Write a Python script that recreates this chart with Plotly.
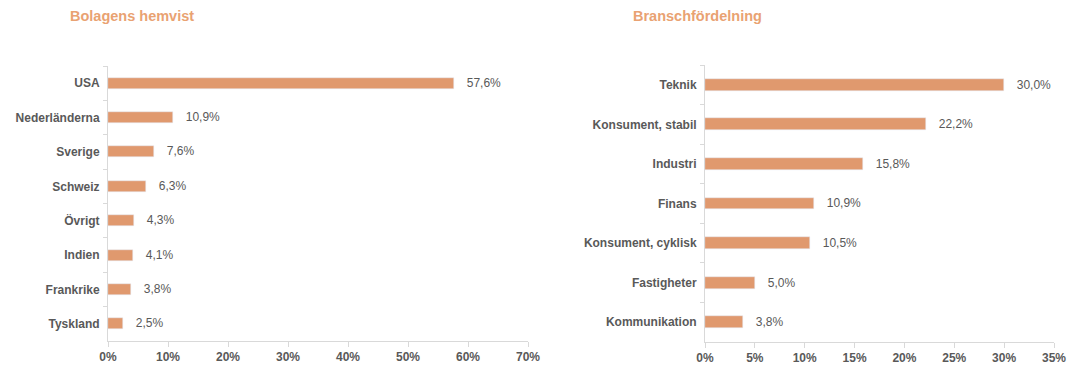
import plotly.graph_objects as go
from plotly.subplots import make_subplots

countries = ["USA", "Nederländerna", "Sverige", "Schweiz", "Övrigt", "Indien", "Frankrike", "Tyskland"]
country_vals = [57.6, 10.9, 7.6, 6.3, 4.3, 4.1, 3.8, 2.5]

sectors = ["Teknik", "Konsument, stabil", "Industri", "Finans", "Konsument, cyklisk", "Fastigheter", "Kommunikation"]
sector_vals = [30.0, 22.2, 15.8, 10.9, 10.5, 5.0, 3.8]

left_ticks = [0, 10, 20, 30, 40, 50, 60, 70]
right_ticks = [0, 5, 10, 15, 20, 25, 30, 35]

BAR = "#E0996E"
TITLE = "#E9A272"
TXT = "#595959"
GRID = "#D9D9D9"
FONT = "Liberation Sans, Arial, sans-serif"

def fmt(v):
    return "   " + f"{v:.1f}%".replace(".", ",")

fig = make_subplots(rows=1, cols=2)

fig.add_trace(go.Bar(
    y=countries, x=country_vals, orientation="h", marker_color=BAR, width=0.32,
    text=[fmt(v) for v in country_vals], textposition="outside", cliponaxis=False,
    constraintext="none",
    textfont=dict(family=FONT, size=12, color=TXT), hoverinfo="skip"), row=1, col=1)

fig.add_trace(go.Bar(
    y=sectors, x=sector_vals, orientation="h", marker_color=BAR, width=0.3,
    text=[fmt(v) for v in sector_vals], textposition="outside", cliponaxis=False,
    constraintext="none",
    textfont=dict(family=FONT, size=12, color=TXT), hoverinfo="skip"), row=1, col=2)

# page body has an 8px margin: figure is drawn 8px in from the top-left
OFF = 8
W, H = 1079 - OFF, 372 - OFF

def px(x):
    return (x - OFF) / W

def py(y):
    return 1 - (y - OFF) / H

xaxis_common = dict(showgrid=False, zeroline=False, showline=True, linecolor=GRID, linewidth=1,
                    ticks="outside", ticklen=5, tickcolor=GRID, automargin=False,
                    tickfont=dict(family=FONT, size=12, color=TXT, weight="bold"))
yaxis_common = dict(showgrid=False, zeroline=False, showline=True, linecolor=GRID, linewidth=1,
                    ticks="outside", ticklen=4, tickcolor=GRID, tickson="boundaries",
                    ticklabelstandoff=5,
                    autorange="reversed", type="category", automargin=False,
                    tickfont=dict(family=FONT, size=12, color=TXT, weight="bold"))

fig.update_layout(
    width=W, height=H, margin=dict(l=0, r=0, t=0, b=0),
    paper_bgcolor="white", plot_bgcolor="white", showlegend=False,
    bargap=0,
    xaxis=dict(domain=[px(108), px(528)], range=[0, 70], tickmode="array", tickvals=left_ticks,
               ticktext=[f"{t}%" for t in left_ticks], **xaxis_common),
    xaxis2=dict(domain=[px(705), px(1054)], range=[0, 35], tickmode="array", tickvals=right_ticks,
                ticktext=[f"{t}%" for t in right_ticks], **xaxis_common),
    yaxis=dict(domain=[py(341), py(66)], categoryorder="array", categoryarray=countries, **yaxis_common),
    yaxis2=dict(domain=[py(342), py(65)], categoryorder="array", categoryarray=sectors, **yaxis_common),
    annotations=[
        dict(text="<b>Bolagens hemvist</b>", x=px(68), y=py(16), xref="paper", yref="paper",
             xanchor="left", yanchor="middle", showarrow=False,
             font=dict(family=FONT, size=14.5, color=TITLE)),
        dict(text="<b>Branschfördelning</b>", x=px(631), y=py(16), xref="paper", yref="paper",
             xanchor="left", yanchor="middle", showarrow=False,
             font=dict(family=FONT, size=14.5, color=TITLE)),
    ],
)

fig.write_html("out.html")
